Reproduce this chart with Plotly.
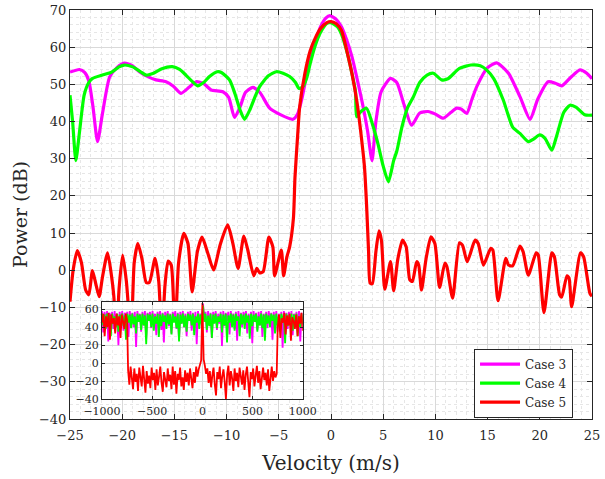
import numpy as np
import plotly.graph_objects as go

# ---------------- main panel data ----------------
case3_x = [-25, -24.1, -23.6, -23.2, -22.8, -22.36, -21.9, -21.2, -20.5, -19.8, -19.0, -18.36, -17.5, -16.76,
           -15.8, -15.1, -14.36, -13.6, -12.92, -12.2, -11.48, -10.36, -9.8, -9.24, -8.7, -8.2, -7.48, -6.8,
           -5.88, -4.8, -3.64, -3.2, -2.8, -2.3, -2.0, -1.5, -1.0, -0.5, -0.1, 0.5, 1.0, 1.5, 2.0, 2.5, 3.0,
           3.5, 3.93, 4.3, 4.8, 5.7, 6.3, 7.0, 7.72, 8.5, 9.3, 10.0, 10.75, 11.5, 12.04, 12.5, 13.0, 13.5,
           13.96, 15.0, 15.87, 17.0, 18.1, 19.07, 19.8, 20.8, 21.5, 22.1, 23.0, 23.85, 24.5, 25]
case3_y = [53.3, 54.0, 53.2, 51, 44, 34.6, 42, 52, 54.5, 55.7, 55.0, 53.4, 52.0, 51.2,
           50.7, 49.5, 47.6, 49.2, 50.7, 50.2, 48.5, 48.0, 46.5, 41.1, 44, 47.8, 49.2, 47.8,
           43.6, 41.8, 40.6, 42, 46, 53, 56.5, 61.5, 65.5, 67.8, 68.5, 67.5, 65.5, 62, 57.5, 51.5, 45,
           37.5, 29.5, 40, 48, 51.6, 50.5, 44.5, 39, 42.3, 42.7, 42, 40.9, 42.5, 43.6, 43.3, 42.2, 46,
           49.4, 54.5, 55.8, 53, 46.7, 40.6, 46, 50.7, 50.3, 49.6, 52, 53.9, 53, 51.5]

case4_x = [-25, -24.75, -24.44, -24.1, -23.64, -23.2, -22.84, -21.9, -21.0, -20.3, -19.8, -19.0, -18.3,
           -17.7, -17.0, -16.2, -15.2, -14.5, -13.9, -13.3, -12.77, -12.2, -11.64, -10.9, -10.5, -9.72,
           -9.2, -8.7, -8.28, -7.8, -7.3, -6.84, -6.0, -5.24, -4.6, -3.96, -3.4, -3.07, -2.7, -2.3, -2.0,
           -1.5, -1.0, -0.4, 0, 0.6, 1.0, 1.6, 2.0, 2.35, 2.45, 2.8, 3.4, 4.0, 4.5, 5.0, 5.5, 6.0, 6.3,
           6.8, 7.3, 7.9, 8.5, 9.2, 9.8, 10.6, 11.2, 12.3, 13.4, 14.3, 14.9, 15.6, 16.5, 17.4, 18.1, 18.9,
           19.4, 20.0, 20.5, 21.15, 21.6, 22.3, 22.9, 23.5, 24.3, 25]
case4_y = [47.1, 40, 29.5, 37, 47.2, 50.5, 51.6, 52.5, 53.3, 54.7, 55.2, 54.7, 53.5,
           52.5, 53, 54.2, 54.75, 54, 52.5, 50.8, 49.6, 50.5, 52.1, 53.4, 53.2, 51.2,
           47.5, 43, 40.6, 43, 46.5, 49.4, 52.3, 53.4, 53, 52.1, 50.5, 48.9, 49.3, 52, 55.5,
           60.5, 64, 66.4, 66.6, 65.5, 63.5, 58, 53, 48, 41.3, 42.5, 43.6, 39, 34, 28, 23.8, 29.5, 32,
           38.6, 43.5, 46.7, 50.5, 52.5, 53, 51.2, 51.5, 54.3, 55.2, 55, 53.9, 51.5, 45.8, 38.5, 36.8, 34.6,
           35.3, 36.4, 35.5, 32.3, 36, 42.5, 44.4, 43.8, 41.8, 41.7]

case5_x = [-25, -24.7, -24.3, -23.9, -23.5, -23.2, -22.85, -22.5, -22.2, -21.9, -21.4, -21.0, -20.8,
           -20.55, -20.3, -19.96, -19.6, -19.15, -18.85, -18.5, -18.1, -17.7, -17.4, -16.85, -16.5,
           -16.2, -15.9, -15.6, -15.3, -14.95, -14.6, -14.1, -13.7, -13.3, -12.8, -12.35, -11.8, -11.25,
           -10.6, -9.9, -9.4, -8.9, -8.35, -7.97, -7.4, -7.1, -6.85, -6.5, -5.95, -5.57, -5.4, -4.76,
           -4.54, -4.22, -3.96, -3.6, -3.45, -3.2, -3.0, -2.5, -2.0, -1.5, -1.0, -0.4, 0, 0.5, 1.0, 1.6,
           2.0, 2.5, 2.9, 3.2, 3.4, 3.6, 3.75, 3.96, 4.3, 4.6, 4.83, 5.15, 5.7, 6.0, 6.4, 6.85, 7.2, 7.55,
           7.8, 8.2, 8.4, 8.67, 9.1, 9.57, 9.95, 10.4, 10.9, 11.1, 11.65, 12.3, 12.6, 13.05, 13.8, 14.1,
           14.6, 15.3, 15.5, 16.0, 16.74, 17.0, 17.4, 18.1, 18.4, 18.9, 19.65, 19.85, 20.4, 21.15, 21.4,
           21.9, 22.1, 22.6, 22.8, 23.05, 23.9, 24.2, 24.8, 25]
case5_y = [-8.45, 0, 5.3, 2, -5.3, -6.6, -0.1, -4, -7.1, -2, 4.7, -2, -7.1,
           -18, -5, 4.1, -3, -18, 2, 7.25, 3, -3.3, -3.3, 3.2, -3,
           -18, -4, 2.5, 1.4, -18, 2, 9.9, 7.2, -5.8, 5, 8.9, 4.6, 0.07,
           7, 12.2, 7.25, 0.5, 9.2, 5.45, -1.5, 0.5, -0.66, -0.4, 8.9, 6.3, -1.5, 5.45,
           -1.5, 3.65, 6.3, 14, 25, 36, 44, 53, 59, 62.5, 65, 66.6, 66.9, 66.3, 64.5, 58,
           53, 45, 36, 28, 18, 5, -3.5, -3.6, 5, 10.6, 8.1, -5.1, 2.3, -5.5, 3, 8.1, 6.3, -2.6,
           -3.0, 2.3, 1.4, -5.3, 3, 9.0, 7.2, -4.6, 1.9, 1.0, -7.5, 7.4, 6.7, 2.3, 8.1, 7.2,
           1.4, 5.9, 5.45, -8.2, 3.2, 1.4, 1.2, 6.5, 5, -1.3, 4.7, 4.1, -11.4, 4.7, 3.6,
           -6.6, -7.2, -1.5, -2.1, -9.8, 4.7, 3.6, -6.2, -7]

# ---------------- inset data (full velocity span, -1000 .. 1000 m/s) ----------------
inset_case3 = [58, 34, 57, 45, 58, 24, 56, 48, 57, 38, 58, 43, 55, 20, 57, 46, 58, 36, 56, 49,
               57, 29, 58, 44, 56, 40, 57, 18, 58, 47, 55, 35, 57, 42, 58, 27, 56, 48, 57, 39,
               58, 44, 55, 31, 57, 46, 58, 37, 56, 23, 57, 45, 58, 41, 55, 33, 57, 48, 58, 38,
               56, 26, 57, 44, 58, 40, 55, 30, 57, 47, 58, 36, 56, 43, 57, 21, 58, 45, 55, 39,
               66, 48, 57, 34, 58, 42, 56, 28, 57, 46, 58, 37, 55, 44, 57, 19, 58, 41, 56, 47,
               57, 32, 58, 45, 55, 38, 57, 25, 58, 43, 56, 40, 57, 48, 58, 33, 55, 44, 57, 22,
               58, 46, 56, 37, 57, 42, 58, 29, 55, 45, 57, 39, 58, 47, 56, 26, 57, 41, 58, 35,
               55, 44, 57, 17, 58, 46, 56, 38, 57, 42, 58, 31, 55, 47, 57, 36, 58, 24, 56, 43]
inset_case4 = [55, 42, 54, 38, 55, 47, 53, 30, 55, 44, 52, 40, 55, 35, 54, 48, 55, 41, 53, 26,
               55, 45, 54, 39, 55, 43, 52, 33, 55, 46, 54, 37, 55, 42, 53, 21, 55, 47, 54, 40,
               55, 36, 52, 44, 55, 29, 54, 41, 55, 46, 53, 38, 55, 43, 54, 32, 55, 45, 52, 39,
               55, 24, 54, 44, 55, 40, 53, 35, 55, 47, 54, 42, 55, 31, 52, 45, 55, 38, 54, 43,
               64, 46, 55, 37, 53, 41, 55, 28, 54, 44, 55, 39, 52, 46, 55, 34, 54, 42, 55, 23,
               53, 45, 55, 40, 54, 36, 55, 47, 52, 30, 55, 43, 54, 38, 55, 45, 53, 27, 55, 41,
               54, 46, 55, 35, 52, 42, 55, 39, 54, 25, 55, 44, 53, 40, 55, 47, 54, 33, 55, 42,
               52, 37, 55, 45, 54, 22, 55, 41, 53, 46, 55, 36, 54, 43, 55, 30, 52, 40, 55, 44]
inset_case5_left = [45, 55, 30, 52, 40, 56, 26, 54, 44, 50, 33, 55, 42, 52, 28, 54, 46, 38, 55, 48]
inset_case5_mid = [-8, -24, -4, -18, -29, -6, -21, -12, -31, -5, -16, -26, -3, -20, -33, -9, -23, -14, -28, -5,
                   -19, -11, -30, -7, -25, -15, -4, -22, -32, -10, -17, -27, -6, -20, -13, -29, -4, -24, -9, -34,
                   -12, -19, -5, -26, -16, -30, -8, -21, -11, -25, -6, -18, -28, -10, -22, -4, -15, -7, -2, 3,
                   67,
                   4, -3, -12, -6, -22, -9, -27, -14, -5, -24, -36, -10, -18, -4, -28, -15, -7, -21, -40, -12,
                   -3, -25, -9, -17, -31, -6, -20, -11, -27, -5, -16, -24, -8, -30, -13, -4, -21, -38, -10, -18,
                   -6, -26, -14, -3, -22, -9, -29, -15, -5, -19, -11, -25, -7, -31, -13, -4, -20, -9, -16, -12]
inset_case5_right = [40, 54, 28, 50, 45, 56, 32, 53, 42, 55, 25, 51, 47, 38, 54, 30, 52, 44, 56, 36]
inset_span = [-1000, 1000]
case5_band_edges = [-750, -740, 740, 750]

series_names = ["Case 3", "Case 4", "Case 5"]
colors = ["#ff00ff", "#00ff00", "#ff0000"]

FONT = "DejaVu Serif"
AX = "#262626"

fig = go.Figure()
for name, xs, ys, c in zip(series_names, [case3_x, case4_x, case5_x], [case3_y, case4_y, case5_y], colors):
    fig.add_trace(go.Scatter(x=xs, y=ys, mode="lines", name=name,
                             line=dict(color=c, width=3.2, shape="spline", smoothing=0.6),
                             xaxis="x", yaxis="y"))

inset_x3 = np.linspace(inset_span[0], inset_span[1], len(inset_case3))
inset_x4 = np.linspace(inset_span[0], inset_span[1], len(inset_case4))
inset_x5 = np.concatenate([
    np.linspace(inset_span[0], case5_band_edges[0], len(inset_case5_left)),
    np.linspace(case5_band_edges[1], case5_band_edges[2], len(inset_case5_mid)),
    np.linspace(case5_band_edges[3], inset_span[1], len(inset_case5_right)),
])
inset_y5 = inset_case5_left + inset_case5_mid + inset_case5_right

for name, xs, ys, c in zip(series_names, [inset_x3, inset_x4, inset_x5],
                           [inset_case3, inset_case4, inset_y5], colors):
    fig.add_trace(go.Scatter(x=xs, y=ys, mode="lines", name=name, showlegend=False,
                             line=dict(color=c, width=1.8), xaxis="x2", yaxis="y2"))

common = dict(showline=True, linecolor=AX, linewidth=1, mirror="ticks", ticks="inside",
              tickcolor=AX, zeroline=False, showgrid=True, gridcolor="#d9d9d9", gridwidth=1,
              automargin=False)

fig.update_layout(
    width=605, height=479,
    margin=dict(l=70, r=13, t=10, b=60, autoexpand=False),
    paper_bgcolor="white", plot_bgcolor="white",
    font=dict(family=FONT, color="#262626"),
    showlegend=True,
    legend=dict(x=0.774, y=0.172, xanchor="left", yanchor="top",
                bgcolor="white", bordercolor=AX, borderwidth=1,
                font=dict(family=FONT, size=12, color="#262626"),
                tracegroupgap=0, itemwidth=40),
    xaxis=dict(**common, range=[-25, 25], tickvals=list(range(-25, 26, 5)), ticklen=5,
               tickfont=dict(family=FONT, size=13), ticklabelstandoff=4,
               minor=dict(dtick=1, showgrid=True, gridcolor="#e6e6e6", griddash="dot", gridwidth=1),
               title=dict(text="Velocity (m/s)", font=dict(family=FONT, size=20), standoff=14),
               domain=[0, 1], anchor="y"),
    yaxis=dict(**common, range=[-40, 70], tickvals=list(range(-40, 71, 10)), ticklen=5,
               tickfont=dict(family=FONT, size=13), ticklabeloverflow="allow",
               minor=dict(dtick=2, showgrid=True, gridcolor="#e6e6e6", griddash="dot", gridwidth=1),
               title=dict(text="Power (dB)", font=dict(family=FONT, size=19), standoff=6),
               domain=[0, 1], anchor="x"),
    xaxis2=dict(**common, range=[-1000, 1000], tickvals=[-1000, -500, 0, 500, 1000], ticklen=3,
                tickfont=dict(family=FONT, size=11), ticklabelstandoff=2,
                minor=dict(dtick=100, showgrid=True, gridcolor="#ececec", griddash="dot"),
                domain=[0.0613, 0.446], anchor="y2"),
    yaxis2=dict(**common, range=[-40, 68], tickvals=[-40, -20, 0, 20, 40, 60], ticklen=3,
                tickfont=dict(family=FONT, size=11),
                minor=dict(dtick=10, showgrid=True, gridcolor="#ececec", griddash="dot"),
                domain=[0.049, 0.286], anchor="x2"),
)

# remove the browser's default 8px page margin so the figure sits at the window origin
fig.write_html("out.html", config={"displayModeBar": False},
               post_script="document.body.style.margin='0px';")
